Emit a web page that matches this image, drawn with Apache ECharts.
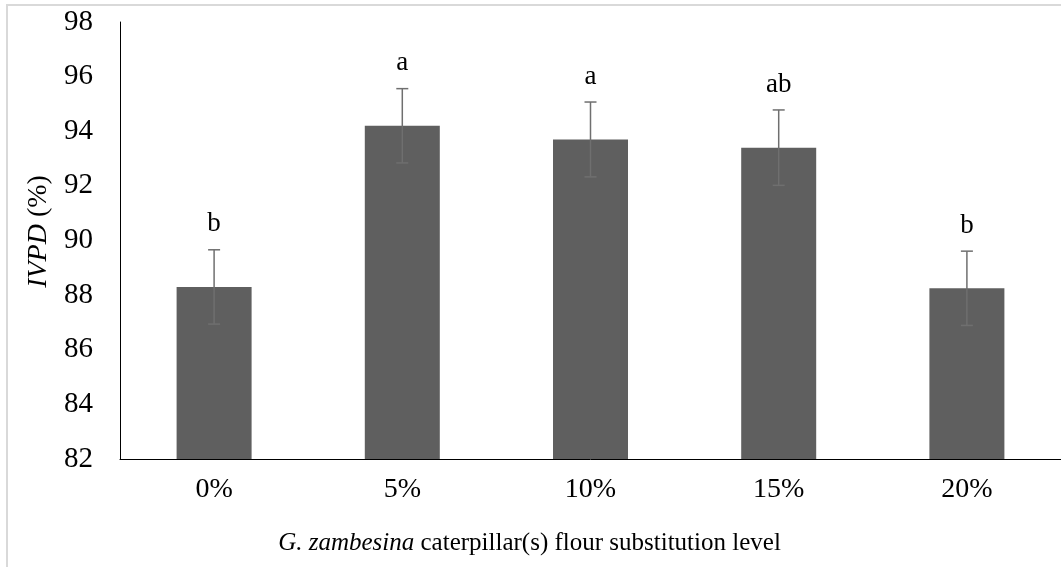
<!DOCTYPE html>
<html>
<head>
<meta charset="utf-8">
<title>IVPD</title>
<script src="https://cdn.jsdelivr.net/npm/echarts@6/dist/echarts.min.js"></script>
<style>
  html, body { margin: 0; padding: 0; background: #fff; }
  #chart { width: 1061px; height: 567px; }
</style>
</head>
<body>
<div id="chart"></div>
<script>
// 数据
const categories = ['0%', '5%', '10%', '15%', '20%']
const ivpdMeans = [88.3, 94.2, 93.7, 93.4, 88.25]
const ivpdErrors = [1.36, 1.36, 1.37, 1.38, 1.36]
const groupLetters = ['b', 'a', 'a', 'ab', 'b']
const yTicks = [82, 84, 86, 88, 90, 92, 94, 96, 98]

const FONT = "'Liberation Serif', 'Times New Roman', serif"

const chart = echarts.init(document.getElementById('chart'))

// 误差线 + 字母标记
const errorItem = (params, api) => {
  const x = api.value(0)
  const mean = api.value(1)
  const err = api.value(2)
  const top = api.coord([x, mean + err])
  const bottom = api.coord([x, mean - err])
  const cap = 6
  const lineStyle = { stroke: '#6f6f6f', lineWidth: 1.5 }
  return {
    type: 'group',
    children: [
      { type: 'line', shape: { x1: top[0], y1: top[1], x2: bottom[0], y2: bottom[1] }, style: lineStyle },
      { type: 'line', shape: { x1: top[0] - cap, y1: top[1], x2: top[0] + cap, y2: top[1] }, style: lineStyle },
      { type: 'line', shape: { x1: bottom[0] - cap, y1: bottom[1], x2: bottom[0] + cap, y2: bottom[1] }, style: lineStyle },
      {
        type: 'text',
        x: top[0],
        y: top[1] - 12,
        style: {
          text: groupLetters[params.dataIndex],
          fill: '#000',
          font: '27px ' + FONT,
          align: 'center',
          verticalAlign: 'bottom'
        }
      }
    ]
  }
}

const option = {
  animation: false,
  backgroundColor: '#fff',
  graphic: [
    {
      type: 'rect',
      shape: { x: 7, y: 5, width: 1120, height: 620 },
      style: { fill: 'none', stroke: '#d9d9d9', lineWidth: 2 },
      silent: true
    }
  ],
  grid: {
    left: 120,
    right: -7,
    top: 22,
    bottom: 108
  },
  xAxis: {
    type: 'category',
    data: categories,
    name: '{i|G. zambesina} caterpillar(s) flour substitution level',
    nameLocation: 'middle',
    nameGap: 72,
    nameTextStyle: {
      color: '#000',
      fontFamily: FONT,
      fontSize: 25,
      padding: [0, 122, 0, 0],
      rich: {
        i: { fontStyle: 'italic', fontFamily: FONT, fontSize: 25, color: '#000' }
      }
    },
    axisLine: { lineStyle: { color: '#000', width: 1 } },
    axisTick: { show: false },
    axisLabel: { color: '#000', fontFamily: FONT, fontSize: 28, margin: 17 }
  },
  yAxis: {
    type: 'value',
    min: yTicks[0],
    max: yTicks[yTicks.length - 1],
    interval: 2,
    name: '{i|IVPD} (%)',
    nameLocation: 'middle',
    nameGap: 66,
    nameTextStyle: {
      color: '#000',
      fontFamily: FONT,
      fontSize: 28,
      padding: [0, 0, 0, 18],
      rich: {
        i: { fontStyle: 'italic', fontFamily: FONT, fontSize: 28, color: '#000' }
      }
    },
    axisLine: { show: true, lineStyle: { color: '#000', width: 1 } },
    axisTick: { show: false },
    splitLine: { show: false },
    axisLabel: { color: '#000', fontFamily: FONT, fontSize: 29, margin: 27 }
  },
  series: [
    {
      type: 'bar',
      data: ivpdMeans,
      barWidth: 75,
      itemStyle: { color: '#5f5f5f' }
    },
    {
      type: 'custom',
      renderItem: errorItem,
      data: ivpdMeans.map((m, i) => [i, m, ivpdErrors[i]]),
      z: 3
    }
  ]
}

chart.setOption(option)
</script>
</body>
</html>
